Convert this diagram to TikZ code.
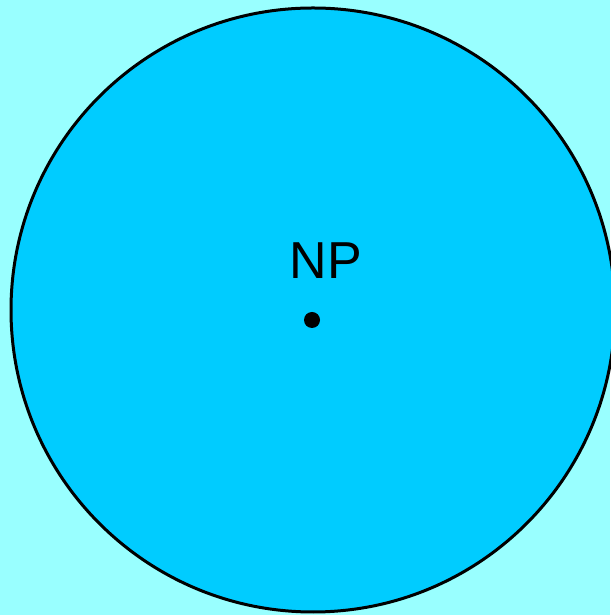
\documentclass[tikz,border=0pt]{standalone}
\usepackage{fontspec}
\setmainfont{Liberation Sans}
\definecolor{bgcyan}{HTML}{99FFFF}
\definecolor{discblue}{HTML}{00CCFF}
\begin{document}
\begin{tikzpicture}[x=1pt,y=1pt,
  disc/.style={circle,draw=black,line width=3pt,fill=discblue,minimum size=604pt,inner sep=0pt},
  pt/.style={circle,fill=black,minimum size=16pt,inner sep=0pt},
  lbl/.style={font=\fontsize{52}{56}\selectfont,inner sep=0pt}]
\fill[bgcyan] (0,0) rectangle (610,615);
\useasboundingbox (0,0) rectangle (610,615);
\node[disc] (c) at (313,305) {};
\node[pt] (p) at (312,295) {};
\node[lbl] (np) at (326,354) {NP};
\end{tikzpicture}
\end{document}
